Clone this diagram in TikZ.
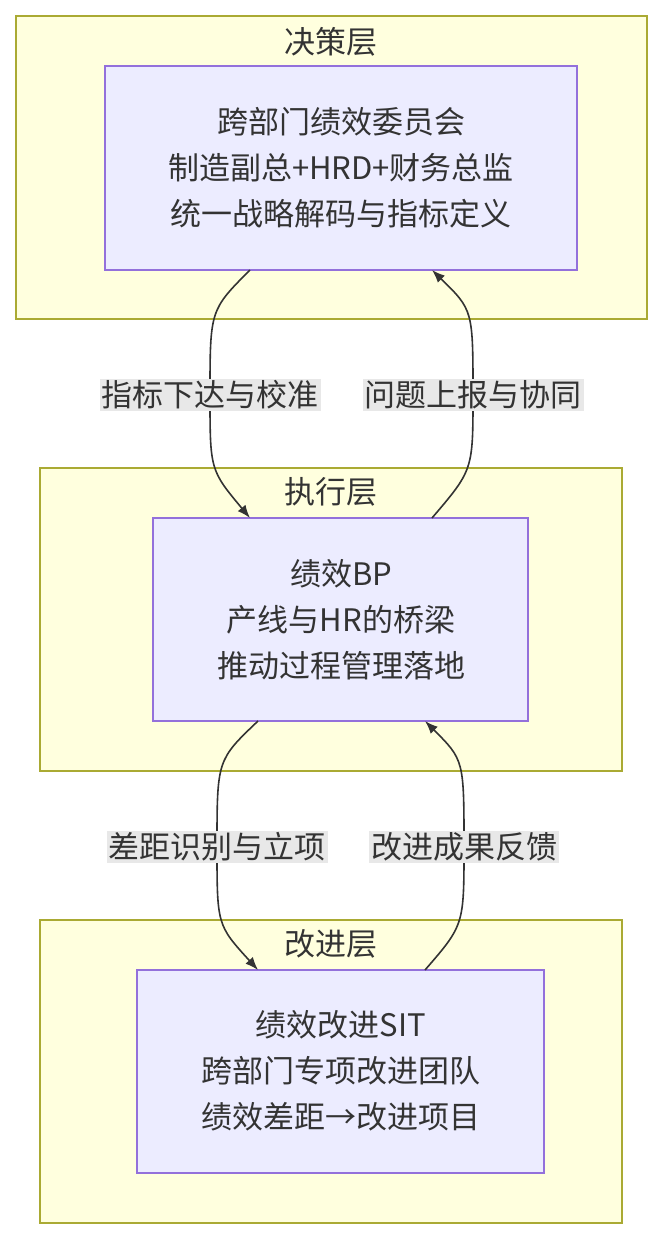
\documentclass[tikz,border=0pt]{standalone}
\usepackage{fontspec}
\setmainfont{Noto Sans CJK SC}
\usetikzlibrary{arrows.meta}
\definecolor{layerfill}{HTML}{FFFFDE}
\definecolor{layerline}{HTML}{AAAA33}
\definecolor{boxfill}{HTML}{ECECFF}
\definecolor{boxline}{HTML}{9370DB}
\definecolor{tagfill}{HTML}{E8E8E8}
\definecolor{ink}{HTML}{333333}
\begin{document}
\begin{tikzpicture}[x=1pt,y=-1pt,
  layer/.style={draw=layerline,fill=layerfill,line width=1.3pt},
  unit/.style={draw=boxline,fill=boxfill,line width=1.3pt},
  title/.style={text=ink,font=\fontsize{31}{34}\selectfont},
  body/.style={text=ink,align=center,font=\fontsize{31}{46}\selectfont},
  tag/.style={fill=tagfill,text=ink,inner sep=2pt,font=\fontsize{31}{34}\selectfont},
  flow/.style={draw=ink,line width=1.6pt,-{Latex[length=13pt,width=10pt]}}]
  \useasboundingbox (0,0) rectangle (663,1240);
  \fill[white] (0,0) rectangle (663,1240);

  % layers
  \draw[layer] (16,16) rectangle (647,319);
  \node[title] (t1) at (331,42) {决策层};
  \draw[unit] (105,66) rectangle (577,270);
  \node[body] (dec) at (341,168) {跨部门绩效委员会\\制造副总+HRD+财务总监\\统一战略解码与指标定义};

  \draw[layer] (40,468) rectangle (622,771);
  \node[title] (t2) at (331,492) {执行层};
  \draw[unit] (153,518) rectangle (528,721);
  \node[body] (exe) at (341,620) {绩效BP\\产线与HR的桥梁\\推动过程管理落地};

  \draw[layer] (40,920) rectangle (622,1223);
  \node[title] (t3) at (331,944) {改进层};
  \draw[unit] (137,970) rectangle (544,1173);
  \node[body] (imp) at (341,1071) {绩效改进SIT\\跨部门专项改进团队\\绩效差距→改进项目};

  % ports
  \coordinate (d1) at (250,270); \coordinate (d2) at (432,270);
  \coordinate (e1) at (250,518); \coordinate (e2) at (432,518);
  \coordinate (e3) at (258,721); \coordinate (e4) at (425,721);
  \coordinate (i1) at (258,970); \coordinate (i2) at (425,970);
  \coordinate (m1) at (210,395); \coordinate (m2) at (473,395);
  \coordinate (m3) at (217,847); \coordinate (m4) at (464,847);

  \draw[flow] (d1) .. controls (210,310) .. (m1) .. controls (210,470) .. (e1);
  \draw[flow] (e2) .. controls (473,470) .. (m2) .. controls (473,310) .. (d2);
  \draw[flow] (e3) .. controls (217,760) .. (m3) .. controls (217,925) .. (i1);
  \draw[flow] (i2) .. controls (464,925) .. (m4) .. controls (464,760) .. (e4);

  \node[tag] (l1) at (m1) {指标下达与校准};
  \node[tag] (l2) at (m2) {问题上报与协同};
  \node[tag] (l3) at (m3) {差距识别与立项};
  \node[tag] (l4) at (m4) {改进成果反馈};
\end{tikzpicture}
\end{document}
